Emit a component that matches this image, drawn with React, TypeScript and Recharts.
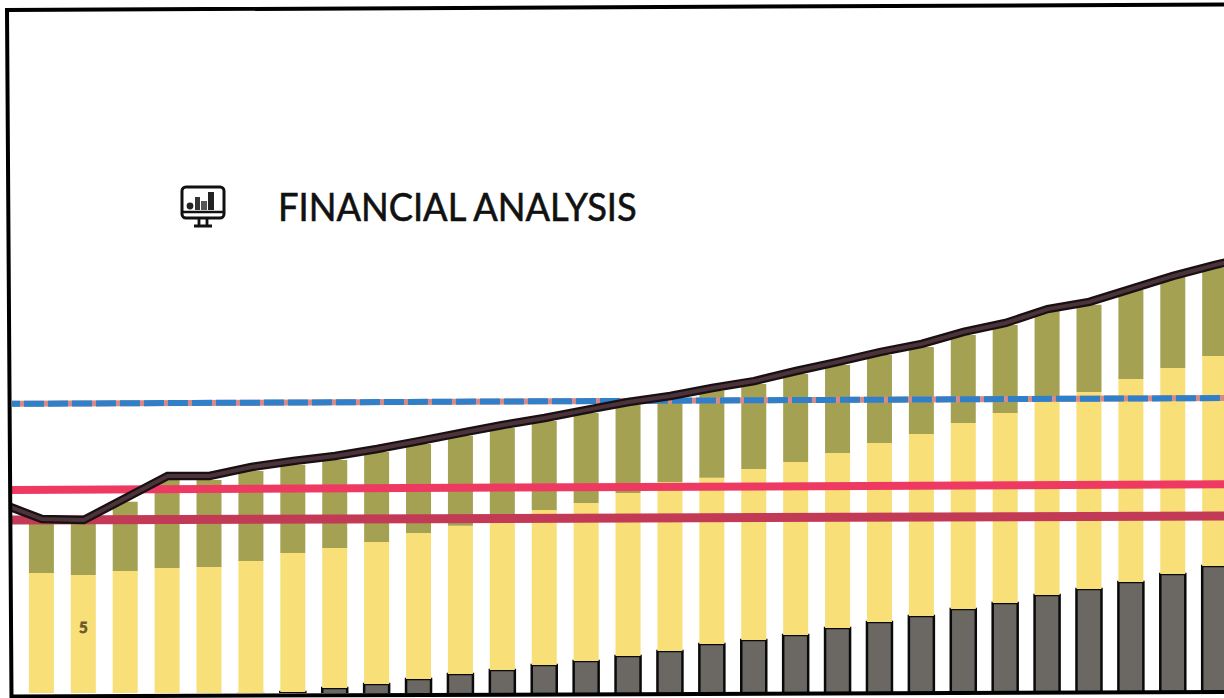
import { Bar, ComposedChart, LabelList, Line, XAxis, YAxis } from "recharts";

// one leading and one trailing period carry only the line series; they sit past the frame
const periods = [
  "P00", "P01", "P02", "P03", "P04", "P05", "P06", "P07", "P08", "P09", "P10",
  "P11", "P12", "P13", "P14", "P15", "P16", "P17", "P18", "P19", "P20",
  "P21", "P22", "P23", "P24", "P25", "P26", "P27", "P28", "P29", "P30",
];

const grey = [
  null, 0, 0, 0, 0, 0, 0.04, 0.13, 0.29, 0.46, 0.67, 0.88, 1.04, 1.25, 1.42, 1.63,
  1.83, 2.13, 2.29, 2.5, 2.79, 3.04, 3.29, 3.58, 3.83, 4.17, 4.42, 4.71, 5.04, 5.38, null,
];
const yellow = [
  null, 5.08, 5, 5.17, 5.29, 5.33, 5.54, 5.79, 5.83, 5.92, 6.08, 6.17, 6.33, 6.46, 6.58, 6.79,
  7.04, 6.92, 7.13, 7.21, 7.29, 7.46, 7.58, 7.75, 7.92, 8.08, 8.21, 8.46, 8.58, 8.75, null,
];
const olive = [
  null, 2.04, 2.13, 2.88, 3.67, 3.63, 3.75, 3.67, 3.67, 3.75, 3.71, 3.75, 3.75, 3.71, 3.75, 3.67,
  3.46, 3.63, 3.54, 3.67, 3.67, 3.67, 3.63, 3.67, 3.67, 3.75, 3.63, 3.71, 3.83, 3.67, null,
];
const total = [
  8, 7.33, 7.29, 8.21, 9.13, 9.13, 9.5, 9.75, 9.96, 10.25, 10.58, 10.92, 11.25, 11.54, 11.88, 12.21,
  12.46, 12.79, 13.08, 13.5, 13.88, 14.29, 14.63, 15.13, 15.5, 16.08, 16.38, 16.92, 17.46, 17.92, 18.33,
];
// the flat levels only need their two end readings
const blueLevel = [12.13, 12.38];
const pinkLevel = [8.54, 8.79];
const maroonLevel = [7.29, 7.46];
const yellowNotes: Record<string, number> = { P02: 5 };

const ends = (pair: number[], i: number) =>
  i === 0 ? pair[0] : i === periods.length - 1 ? pair[1] : null;

const data = periods.map((period, i) => ({
  period,
  grey: grey[i],
  yellow: yellow[i],
  olive: olive[i],
  total: total[i],
  blue: ends(blueLevel, i),
  pink: ends(pinkLevel, i),
  maroon: ends(maroonLevel, i),
  note: yellowNotes[period] ?? null,
}));

function MonitorIcon() {
  return (
    <svg
      width={46}
      height={44}
      viewBox="0 0 46 44"
      style={{ position: "absolute", left: 180, top: 185 }}
    >
      <rect x={2} y={2} width={42} height={31} rx={4} fill="none" stroke="#111" strokeWidth={3} />
      <line x1={2} y1={27} x2={44} y2={27} stroke="#111" strokeWidth={2.6} />
      <path d="M19 34 V40 M27 34 V40 M14 41 H32" stroke="#111" strokeWidth={2.8} fill="none" />
      <circle cx={10} cy={21} r={3.4} fill="#222" />
      <rect x={15} y={12} width={5} height={13} fill="#333" />
      <rect x={21} y={16} width={6} height={9} fill="#555" />
      <rect x={28} y={7} width={6} height={18} fill="#222" />
    </svg>
  );
}

export default function App() {
  return (
    <div
      style={{
        position: "absolute",
        left: 0,
        top: 0,
        width: 1224,
        height: 698,
        background: "#fff",
        overflow: "hidden",
      }}
    >
      <div style={{ position: "absolute", left: 12, top: 0, width: 1212, height: 693, overflow: "hidden" }}>
        <div style={{ position: "absolute", left: -33.35, top: 5 }}>
          <ComposedChart
            width={1299}
            height={690}
            data={data}
            margin={{ top: 0, right: 0, bottom: 0, left: 0 }}
            barSize={25}
          >
            <XAxis dataKey="period" hide />
            <YAxis hide domain={[0, 28.75]} />
            <Bar dataKey="grey" stackId="a" fill="#6b6864" stroke="#0a0a0a" strokeWidth={2.5} isAnimationActive={false} />
            <Bar dataKey="yellow" stackId="a" fill="#f8df78" isAnimationActive={false}>
              <LabelList
                dataKey="note"
                position="center"
                fill="#6b5a2e"
                stroke="#6b5a2e"
                strokeWidth={0.8}
                fontSize={15}
                fontWeight={700}
                fontFamily="Lato"
                dy={-7}
              />
            </Bar>
            <Bar dataKey="olive" stackId="a" fill="#a4a152" isAnimationActive={false} />
            <Line
              dataKey="blue"
              connectNulls
              dot={false}
              stroke="#d98a86"
              strokeWidth={6}
              isAnimationActive={false}
            />
            <Line
              dataKey="blue"
              connectNulls
              dot={false}
              stroke="#2f80c8"
              strokeWidth={6}
              strokeDasharray="20 4"
              isAnimationActive={false}
            />
            <Line dataKey="pink" connectNulls dot={false} stroke="#ee3a62" strokeWidth={8} isAnimationActive={false} />
            <Line dataKey="maroon" connectNulls dot={false} stroke="#c23a56" strokeWidth={9} isAnimationActive={false} />
            <Line dataKey="total" dot={false} stroke="#1a0f12" strokeWidth={8.5} isAnimationActive={false} />
            <Line dataKey="total" dot={false} stroke="#4a343a" strokeWidth={4} isAnimationActive={false} />
          </ComposedChart>
        </div>
      </div>
      {/* frame is slightly skewed and runs off the right edge */}
      <svg width={1224} height={698} style={{ position: "absolute", left: 0, top: 0 }}>
        <polyline
          points="1224,4.5 7,10 11.5,696.5 1224,692"
          fill="none"
          stroke="#000"
          strokeWidth={4}
          strokeLinejoin="miter"
        />
      </svg>
      <MonitorIcon />
      <div
        style={{
          position: "absolute",
          left: 278,
          top: 183,
          fontFamily: "Lato",
          fontSize: 38,
          color: "#111",
          whiteSpace: "nowrap",
          transform: "scaleX(0.955)",
          transformOrigin: "left center",
          WebkitTextStroke: "0.6px #111",
        }}
      >
        FINANCIAL ANALYSIS
      </div>
    </div>
  );
}
